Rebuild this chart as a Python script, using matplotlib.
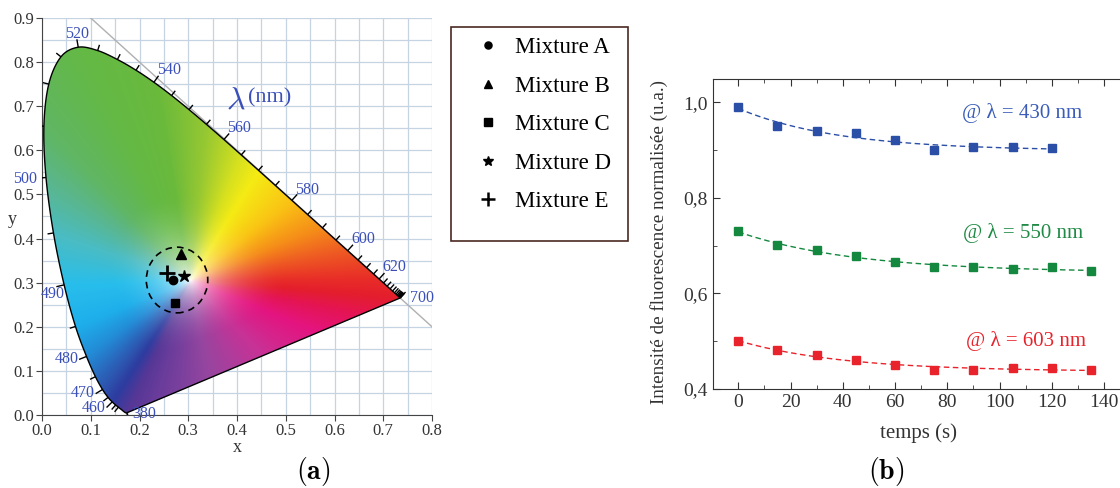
import numpy as np
import matplotlib
matplotlib.use("Agg")
import matplotlib.pyplot as plt
from matplotlib.patches import Polygon, Ellipse, Rectangle
from matplotlib.lines import Line2D
from matplotlib.ticker import MultipleLocator, FuncFormatter

plt.rcParams['font.family'] = ['Liberation Serif', 'DejaVu Serif']
plt.rcParams['mathtext.fontset'] = 'cm'

# CIE 1931 spectral locus, 380-700 nm every 5 nm
wl = np.arange(380, 701, 5)
locus_x = [0.1741, 0.1740, 0.1738, 0.1736, 0.1733, 0.1730, 0.1726, 0.1721, 0.1714,
           0.1703, 0.1689, 0.1669, 0.1644, 0.1611, 0.1566, 0.1510, 0.1440, 0.1355,
           0.1241, 0.1096, 0.0913, 0.0687, 0.0454, 0.0235, 0.0082, 0.0039, 0.0139,
           0.0389, 0.0743, 0.1142, 0.1547, 0.1929, 0.2296, 0.2658, 0.3016, 0.3373,
           0.3731, 0.4087, 0.4441, 0.4788, 0.5125, 0.5448, 0.5752, 0.6029, 0.6270,
           0.6482, 0.6658, 0.6801, 0.6915, 0.7006, 0.7079, 0.7140, 0.7190, 0.7230,
           0.7260, 0.7283, 0.7300, 0.7311, 0.7320, 0.7327, 0.7334, 0.7340, 0.7344,
           0.7346, 0.7347]
locus_y = [0.0050, 0.0050, 0.0049, 0.0049, 0.0048, 0.0048, 0.0048, 0.0048, 0.0051,
           0.0058, 0.0069, 0.0086, 0.0109, 0.0138, 0.0177, 0.0227, 0.0297, 0.0399,
           0.0578, 0.0868, 0.1327, 0.2007, 0.2950, 0.4127, 0.5384, 0.6548, 0.7502,
           0.8120, 0.8338, 0.8262, 0.8059, 0.7816, 0.7543, 0.7243, 0.6923, 0.6589,
           0.6245, 0.5896, 0.5547, 0.5202, 0.4866, 0.4544, 0.4242, 0.3965, 0.3725,
           0.3514, 0.3340, 0.3197, 0.3083, 0.2993, 0.2920, 0.2859, 0.2809, 0.2770,
           0.2740, 0.2717, 0.2700, 0.2689, 0.2680, 0.2673, 0.2666, 0.2660, 0.2656,
           0.2654, 0.2653]

label_wl = [380, 460, 470, 480, 490, 500, 520, 540, 560, 580, 600, 620, 700]
label_xy = [(0.207, 0.002), (0.106, 0.015), (0.084, 0.050), (0.050, 0.126),
            (0.022, 0.275), (-0.035, 0.536), (0.072, 0.864), (0.260, 0.781),
            (0.404, 0.651), (0.544, 0.511), (0.660, 0.398), (0.723, 0.335),
            (0.777, 0.265)]

mixtures = ['Mixture A', 'Mixture B', 'Mixture C', 'Mixture D', 'Mixture E']
mix_x = [0.269, 0.286, 0.273, 0.292, 0.256]
mix_y = [0.305, 0.365, 0.255, 0.316, 0.323]
mix_markers = ['o', '^', 's', '*', '+']
mix_sizes = [6, 6.5, 6, 9, 12]

# fluorescence vs time
t_430 = [0, 15, 30, 45, 60, 75, 90, 105, 120]
i_430 = [0.990, 0.951, 0.940, 0.935, 0.921, 0.900, 0.907, 0.906, 0.904]
t_550 = [0, 15, 30, 45, 60, 75, 90, 105, 120, 135]
i_550 = [0.730, 0.701, 0.690, 0.679, 0.666, 0.656, 0.656, 0.651, 0.655, 0.646]
t_603 = [0, 15, 30, 45, 60, 75, 90, 105, 120, 135]
i_603 = [0.500, 0.481, 0.471, 0.460, 0.450, 0.440, 0.440, 0.443, 0.444, 0.440]

# colour anchors along the boundary (wavelength -> rgb)
anchor_wl = [380, 460, 470, 480, 485, 490, 495, 500, 505, 520, 540, 555, 565, 570,
             580, 590, 600, 620, 700]
anchor_rgb = [(85, 55, 150), (45, 60, 160), (45, 85, 175), (35, 140, 215), (30, 175, 235),
              (40, 190, 235), (75, 188, 195), (90, 182, 140), (96, 182, 100), (100, 185, 70),
              (105, 185, 60), (150, 200, 50), (215, 225, 30), (245, 235, 20), (250, 195, 20),
              (245, 140, 25), (238, 90, 35), (232, 45, 40), (228, 30, 45)]
purple_frac = [0.15, 0.3, 0.5, 0.7, 0.9]
purple_rgb = [(228, 20, 85), (228, 20, 128), (200, 50, 150), (150, 70, 160), (105, 60, 155)]

W = np.array([0.305, 0.305])


def fit_curve(t, y, t_end):
    t = np.asarray(t, float)
    y = np.asarray(y, float)
    best = None
    for tau in np.linspace(5, 250, 500):
        A = np.column_stack([np.ones_like(t), np.exp(-t / tau)])
        coef = np.linalg.lstsq(A, y, rcond=None)[0]
        err = np.sum((A @ coef - y) ** 2)
        if best is None or err < best[0]:
            best = (err, tau, coef)
    tt = np.linspace(0, t_end, 200)
    return tt, best[2][0] + best[2][1] * np.exp(-tt / best[1])


def smooth_locus(xs, ys, k=10):
    # Catmull-Rom through the tabulated points
    P = np.column_stack([xs, ys])
    P = np.vstack([P[0], P, P[-1]])
    out = []
    for i in range(1, len(P) - 2):
        p0, p1, p2, p3 = P[i - 1], P[i], P[i + 1], P[i + 2]
        for u in np.linspace(0, 1, k, endpoint=False):
            out.append(0.5 * (2 * p1 + (-p0 + p2) * u + (2 * p0 - 5 * p1 + 4 * p2 - p3) * u ** 2
                              + (-p0 + 3 * p1 - 3 * p2 + p3) * u ** 3))
    out.append(P[-2])
    return np.array(out)


def chroma_image(nx=500, ny=560):
    lx = np.array(locus_x)
    ly = np.array(locus_y)
    f = np.linspace(0, 1, 60)[1:-1]
    bx = np.concatenate([lx, lx[-1] + (lx[0] - lx[-1]) * f])
    by = np.concatenate([ly, ly[-1] + (ly[0] - ly[-1]) * f])
    ang_b = np.arctan2(by - W[1], bx - W[0])
    rad_b = np.hypot(bx - W[0], by - W[1])
    o = np.argsort(ang_b)
    pf = np.array(purple_frac)
    ax_ = [lx[list(wl).index(w)] for w in anchor_wl] + list(lx[-1] + (lx[0] - lx[-1]) * pf)
    ay_ = [ly[list(wl).index(w)] for w in anchor_wl] + list(ly[-1] + (ly[0] - ly[-1]) * pf)
    cols = np.array(anchor_rgb + purple_rgb, float) / 255
    ang_a = np.arctan2(np.array(ay_) - W[1], np.array(ax_) - W[0])
    oa = np.argsort(ang_a)

    gx, gy = np.meshgrid(np.linspace(0, 0.8, nx), np.linspace(0, 0.9, ny))
    ang = np.arctan2(gy - W[1], gx - W[0])
    r = np.hypot(gx - W[0], gy - W[1])
    R = np.interp(ang, ang_b[o], rad_b[o], period=2 * np.pi)
    s1 = np.clip(r / 0.19, 0, 1) ** 0.75
    s2 = np.clip(r / R / 0.6, 0, 1) ** 0.75
    s = 1 - (1 - s1) * (1 - s2)
    img = np.zeros((ny, nx, 3))
    for c in range(3):
        col = np.interp(ang, ang_a[oa], cols[oa, c], period=2 * np.pi)
        img[..., c] = 1 - s + s * col
    return img


fig = plt.figure(figsize=(11.2, 4.88), dpi=100)

# ---------------- (a) chromaticity diagram
ax1 = fig.add_axes([42 / 1120, 73 / 488, 390 / 1120, 397 / 488])
ax1.set_xlim(0, 0.8)
ax1.set_ylim(0, 0.9)
ax1.xaxis.set_minor_locator(MultipleLocator(0.05))
ax1.yaxis.set_minor_locator(MultipleLocator(0.05))
ax1.set_xticks(np.arange(0, 0.81, 0.1))
ax1.set_yticks(np.arange(0, 0.91, 0.1))
ax1.grid(True, which='both', color='#c6d3e2', lw=0.9)
ax1.set_axisbelow(True)
for sp in ['top', 'right']:
    ax1.spines[sp].set_visible(False)
for sp in ['left', 'bottom']:
    ax1.spines[sp].set_color('#444444')
ax1.tick_params(which='major', length=4, pad=1.5, color='#444444', labelsize=12, labelcolor='#333333')
ax1.tick_params(which='minor', length=0)
ax1.xaxis.set_major_formatter(FuncFormatter(lambda v, p: f'{v:.1f}'))
ax1.yaxis.set_major_formatter(FuncFormatter(lambda v, p: f'{v:.1f}'))
ax1.set_xlabel('x', fontsize=13, labelpad=0, color='#333333')
ax1.set_ylabel('y', fontsize=13, rotation=0, color='#333333')
ax1.yaxis.set_label_coords(-0.075, 0.47)

ax1.plot([0.1, 0.8], [0.9, 0.2], color='#b0b0b0', lw=1.0, zorder=2)

outline = Polygon(smooth_locus(locus_x, locus_y), closed=True, fc='none',
                  ec='black', lw=1.0, zorder=4)
ax1.add_patch(outline)
im = ax1.imshow(chroma_image(), extent=[0, 0.8, 0, 0.9], origin='lower',
                aspect='auto', interpolation='bilinear', zorder=3)
im.set_clip_path(outline)

# wavelength ticks, drawn in pixel space so they stay perpendicular
sx, sy = 390 / 0.8, 397 / 0.9
lx = np.array(locus_x)
ly = np.array(locus_y)
for i, w in enumerate(wl):
    if 390 <= w <= 445:
        continue
    j0, j1 = max(i - 1, 0), min(i + 1, len(wl) - 1)
    tx = (lx[j1] - lx[j0]) * sx
    ty = (ly[j1] - ly[j0]) * sy
    n = np.array([ty, -tx])
    n = n / (np.hypot(*n) + 1e-12)
    if n[0] * (lx[i] - W[0]) * sx + n[1] * (ly[i] - W[1]) * sy < 0:
        n = -n
    L = 8 if w in label_wl else 6
    ax1.plot([lx[i], lx[i] + n[0] * L / sx], [ly[i], ly[i] + n[1] * L / sy],
             color='black', lw=1.0, zorder=5, solid_capstyle='butt')

for w, (x, y) in zip(label_wl, label_xy):
    ha = 'left' if w in (380, 700) else 'center'
    ax1.text(x if ha == 'center' else x - 0.022, y, str(w), fontsize=11.5, color='#3b4fb8',
             ha=ha, va='center', zorder=6, clip_on=False)
ax1.text(0.418, 0.712, r'$\lambda$', fontsize=23, color='#3b4fb8', ha='right', va='center', zorder=6)
ax1.text(0.422, 0.718, '(nm)', fontsize=16, color='#3b4fb8', ha='left', va='center', zorder=6)

ax1.add_patch(Ellipse((0.277, 0.306), 0.126, 0.149, fc='none', ec='black', lw=1.2,
                      ls=(0, (4, 3)), zorder=6))
for x, y, m, ms in zip(mix_x, mix_y, mix_markers, mix_sizes):
    ax1.plot([x], [y], marker=m, ms=ms, mew=2 if m == '+' else 1, color='black',
             ls='none', zorder=7)

# legend box
fig.patches.append(Rectangle((451 / 1120, 1 - 241 / 488), 177 / 1120, 214 / 488,
                             transform=fig.transFigure, fc='white', ec='#4a2a22', lw=1.2))
handles = [Line2D([], [], marker=m, ms=ms * 0.85, mew=1.8 if m == '+' else 1,
                  color='black', ls='none')
           for m, ms in zip(mix_markers, mix_sizes)]
fig.legend(handles, mixtures, loc='upper left', bbox_to_anchor=(463 / 1120, 1 - 26 / 488),
           frameon=False, fontsize=16.5, labelspacing=0.76, handletextpad=0.55,
           handlelength=1.2, borderpad=0)

fig.text(313 / 1120, 1 - 472 / 488, r'$\mathbf{(a)}$', fontsize=20, ha='center', va='center')
fig.text(886 / 1120, 1 - 472 / 488, r'$\mathbf{(b)}$', fontsize=20, ha='center', va='center')

# ---------------- (b) fluorescence vs time
ax2 = fig.add_axes([712.7 / 1120, 99 / 488, 412.3 / 1120, 310 / 488])
ax2.set_xlim(-9.8, 148.0)
ax2.set_ylim(0.4, 1.049)
ax2.xaxis.set_major_locator(MultipleLocator(20))
ax2.xaxis.set_minor_locator(MultipleLocator(10))
ax2.yaxis.set_major_locator(MultipleLocator(0.2))
ax2.yaxis.set_minor_locator(MultipleLocator(0.1))
ax2.yaxis.set_major_formatter(FuncFormatter(lambda v, p: f'{v:.1f}'.replace('.', ',')))
ax2.tick_params(which='both', direction='in', top=True, right=False, color='#333333',
                labelsize=14, labelcolor='#333333')
ax2.tick_params(which='major', length=5)
ax2.tick_params(which='minor', length=3)
for sp in ax2.spines.values():
    sp.set_color('#333333')
ax2.set_xlabel('temps (s)', fontsize=15, labelpad=9, color='#333333')
ax2.set_ylabel('Intensité de fluorescence normalisée (u.a.)', fontsize=13.8, color='#333333')
ax2.yaxis.set_label_coords(-0.108, 0.475)

series = [(t_430, i_430, '#2b4fa6', '#3a5cb8', '@ λ = 430 nm', 120, 108.5, 0.977),
          (t_550, i_550, '#13883e', '#1f8a45', '@ λ = 550 nm', 135, 109.1, 0.727),
          (t_603, i_603, '#e8232b', '#e8232b', '@ λ = 603 nm', 135, 110.0, 0.500)]
for t, y, col, tcol, lab, tend, lxp, lyp in series:
    tt, yy = fit_curve(t, y, tend)
    ax2.plot(tt, yy, ls=(0, (4, 2.5)), color=col, lw=1.0)
    ax2.plot(t, y, 's', ms=5.5, color=col, mec=col)
    ax2.text(lxp, lyp, lab, fontsize=15, color=tcol, ha='center', va='center')

fig.savefig('out.png', dpi=100)
